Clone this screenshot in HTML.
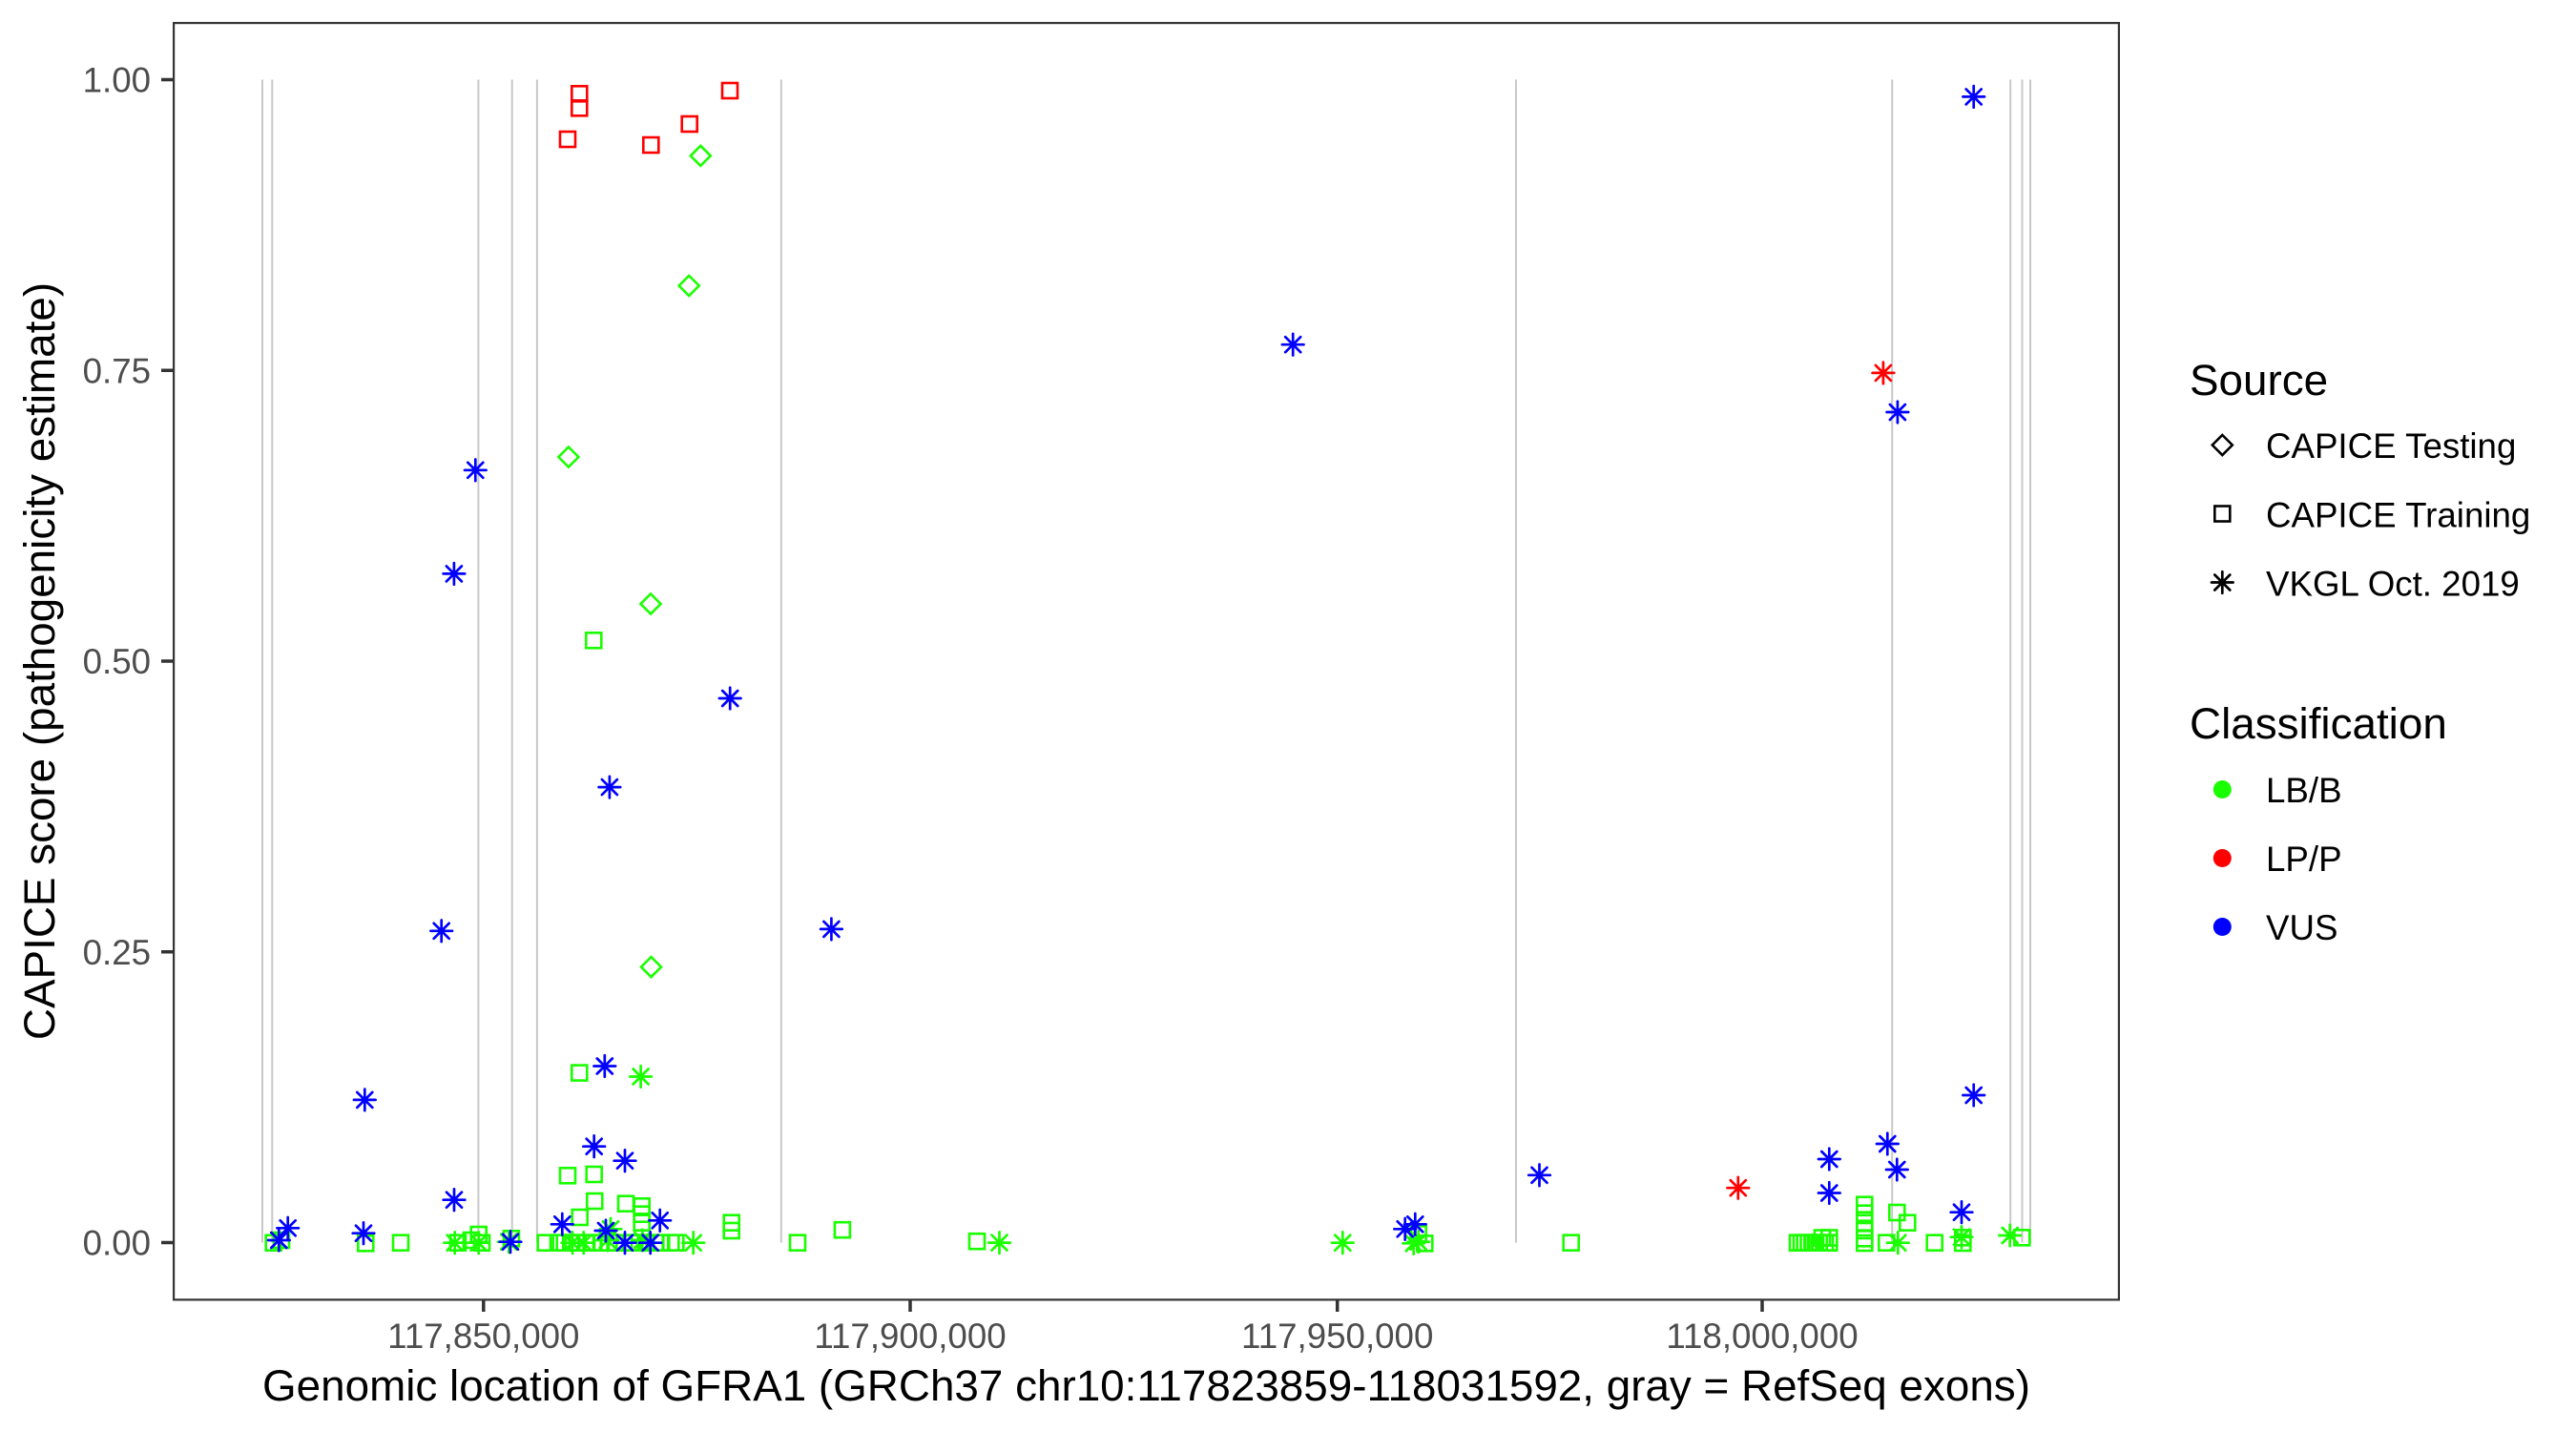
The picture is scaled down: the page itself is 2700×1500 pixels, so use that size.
<!DOCTYPE html>
<html>
<head>
<meta charset="utf-8">
<style>
html,body{margin:0;padding:0;background:#fff;}
svg{display:block;}
text{font-family:"Liberation Sans",Arial,sans-serif;}
.pts{fill:none;stroke:none;}
</style>
</head>
<body>
<svg width="2700" height="1500" viewBox="0 0 2700 1500" xmlns="http://www.w3.org/2000/svg">
<defs>
<marker id="mgs" markerUnits="userSpaceOnUse" overflow="visible" refX="0" refY="0" markerWidth="1" markerHeight="1"><rect x="-8" y="-8" width="16" height="16" fill="none" stroke="#1AFF00" stroke-width="2.6"/></marker>
<marker id="mrs" markerUnits="userSpaceOnUse" overflow="visible" refX="0" refY="0" markerWidth="1" markerHeight="1"><rect x="-8" y="-8" width="16" height="16" fill="none" stroke="#FF0000" stroke-width="2.6"/></marker>
<marker id="mgd" markerUnits="userSpaceOnUse" overflow="visible" refX="0" refY="0" markerWidth="1" markerHeight="1"><path d="M0 -10.5L10.5 0L0 10.5L-10.5 0Z" fill="none" stroke="#1AFF00" stroke-width="2.6"/></marker>
<marker id="mga" markerUnits="userSpaceOnUse" overflow="visible" refX="0" refY="0" markerWidth="1" markerHeight="1"><path d="M-11.3 0H11.3M0 -11.3V11.3M-8 -8L8 8M-8 8L8 -8" fill="none" stroke="#1AFF00" stroke-width="2.7" stroke-linecap="round"/></marker>
<marker id="mba" markerUnits="userSpaceOnUse" overflow="visible" refX="0" refY="0" markerWidth="1" markerHeight="1"><path d="M-11.3 0H11.3M0 -11.3V11.3M-8 -8L8 8M-8 8L8 -8" fill="none" stroke="#0000FF" stroke-width="2.7" stroke-linecap="round"/></marker>
<marker id="mra" markerUnits="userSpaceOnUse" overflow="visible" refX="0" refY="0" markerWidth="1" markerHeight="1"><path d="M-11.3 0H11.3M0 -11.3V11.3M-8 -8L8 8M-8 8L8 -8" fill="none" stroke="#FF0000" stroke-width="2.7" stroke-linecap="round"/></marker>
</defs>
<rect x="0" y="0" width="2700" height="1500" fill="#fff"/>

<path d="M275 83.5V1302.5M285.3 83.5V1302.5M501.4 83.5V1302.5M536.7 83.5V1302.5M562.9 83.5V1302.5M818.8 83.5V1302.5M1589 83.5V1302.5M1983.2 83.5V1302.5M2107.2 83.5V1302.5M2119.5 83.5V1302.5M2128 83.5V1302.5" stroke="#C8C8C8" stroke-width="2" fill="none"/>

<polyline class="pts" marker-start="url(#mgs)" marker-mid="url(#mgs)" marker-end="url(#mgs)" points="622.3,671.3 607.3,1124.6 595,1232.3 622.7,1231 623.3,1259 656,1261.7 672.7,1264.3 672.7,1272.7 672.7,1281.7 607.7,1276 766.7,1281.7 766.7,1290 836,1302.7 882.9,1289.2 286.7,1302.7 295,1300 383.3,1303.3 420,1302.7 480,1302.7 494,1300 501.7,1294 505,1302.7 536,1298.3 571.7,1302.7 585,1302.7 591.7,1302.7 598.3,1302.7 605,1302.7 615,1302.7 621.7,1302.7 630,1302.7 638.3,1302.7 645,1302.7 663.3,1302.7 670,1302.7 676.7,1302.7 686.7,1302.7 693.3,1302.7 703.3,1302.7 708.3,1302.7 1024,1301.2 1486.7,1293.3 1493.3,1303.3 1646.7,1302.7 1884,1302.7 1888,1302.7 1891.7,1302.7 1895.5,1302.7 1899.3,1302.7 1903,1302.7 1906.7,1302.7 1910,1297.5 1913,1302.7 1917.3,1297.5 1917.3,1302.7 1954.3,1262.7 1954.3,1271.7 1954.3,1281.7 1954.3,1290 1954.3,1298.3 1954.3,1303 1988.3,1271 1999.3,1281.7 1977.3,1302.7 2027.7,1302.7 2057.3,1297.3 2057.3,1303 2119.3,1297.3"/>

<polyline class="pts" marker-start="url(#mrs)" marker-mid="url(#mrs)" marker-end="url(#mrs)" points="595,146 607.3,98.3 607.3,113.3 682.3,152 722.7,130 765,95"/>

<polyline class="pts" marker-start="url(#mgd)" marker-mid="url(#mgd)" marker-end="url(#mgd)" points="734.3,163.3 722.2,299.5 595.9,479 682,633 682.5,1013.6"/>

<polyline class="pts" marker-start="url(#mga)" marker-mid="url(#mga)" marker-end="url(#mga)" points="671.6,1128.5 476.7,1302.7 501.7,1302.7 533.3,1301.7 600,1302.7 611.7,1302.7 636.7,1300 640,1288.3 673.3,1300 726.7,1302.7 1047.5,1302.6 1407.3,1302.7 1481.7,1303.3 1486.7,1301.7 1989.3,1302.7 2056,1296.7 2106.7,1295"/>

<polyline class="pts" marker-start="url(#mba)" marker-mid="url(#mba)" marker-end="url(#mba)" points="498.3,492.8 475.9,601.4 765.2,732 638.9,825.1 462.7,975.8 871.4,973.9 1355.2,361.2 2068.7,101.4 1988.9,432 633.8,1117.5 382.3,1152.9 622.7,1201.7 655,1216.7 476,1257.7 589.3,1283.3 691.7,1279.3 301.7,1287.3 381,1292.7 292.3,1300 535,1301.7 635,1290 655,1302.7 681.7,1302.7 1472.7,1288.3 1483.3,1283.3 1613.5,1231.8 2068.7,1148 1978.3,1199 1917.3,1215 1988.3,1226 1917.3,1250.5 2056,1270.7"/>

<polyline class="pts" marker-start="url(#mra)" marker-mid="url(#mra)" marker-end="url(#mra)" points="1973.9,390.9 1821.8,1245.2"/>

<rect x="182.1" y="24.1" width="2038.8" height="1338.3" fill="none" stroke="#333333" stroke-width="2.2"/>
<path d="M169 1302.5H181M169 997.75H181M169 693H181M169 388.25H181M169 83.5H181M506.8 1363V1375M954 1363V1375M1401.7 1363V1375M1847 1363V1375" stroke="#333333" stroke-width="3.5" fill="none"/>

<g fill="#4D4D4D" font-size="36.7" text-anchor="end">
<text x="158" y="1315.5">0.00</text>
<text x="158" y="1010.75">0.25</text>
<text x="158" y="706">0.50</text>
<text x="158" y="401.25">0.75</text>
<text x="158" y="96.5">1.00</text>
</g>
<g fill="#4D4D4D" font-size="36.7" text-anchor="middle">
<text x="506.8" y="1413">117,850,000</text>
<text x="954" y="1413">117,900,000</text>
<text x="1401.7" y="1413">117,950,000</text>
<text x="1847" y="1413">118,000,000</text>
</g>

<text x="1201.5" y="1468" font-size="45.8" text-anchor="middle" fill="#000">Genomic location of GFRA1 (GRCh37 chr10:117823859-118031592, gray = RefSeq exons)</text>
<text transform="translate(57,693) rotate(-90)" font-size="45.8" text-anchor="middle" fill="#000">CAPICE score (pathogenicity estimate)</text>

<text x="2295" y="414" font-size="45.8" fill="#000">Source</text>
<path d="M2329.3 456L2339.8 466.5L2329.3 477L2318.8 466.5Z" fill="none" stroke="#000" stroke-width="2.6"/>
<rect x="2321.3" y="530.5" width="16" height="16" fill="none" stroke="#000" stroke-width="2.6"/>
<path d="M2318 610.5H2340.6M2329.3 599.2V621.8M2321.3 602.5L2337.3 618.5M2321.3 618.5L2337.3 602.5" fill="none" stroke="#000" stroke-width="2.7" stroke-linecap="round"/>
<g font-size="36.7" fill="#000">
<text x="2375" y="480">CAPICE Testing</text>
<text x="2375" y="552.5">CAPICE Training</text>
<text x="2375" y="624.5">VKGL Oct. 2019</text>
</g>

<text x="2295" y="774" font-size="45.8" fill="#000">Classification</text>
<circle cx="2329.3" cy="827.5" r="9.5" fill="#1AFF00"/>
<circle cx="2329.3" cy="899.5" r="9.5" fill="#FF0000"/>
<circle cx="2329.3" cy="971.5" r="9.5" fill="#0000FF"/>
<g font-size="36.7" fill="#000">
<text x="2375" y="841">LB/B</text>
<text x="2375" y="913">LP/P</text>
<text x="2375" y="985">VUS</text>
</g>
</svg>
</body>
</html>
